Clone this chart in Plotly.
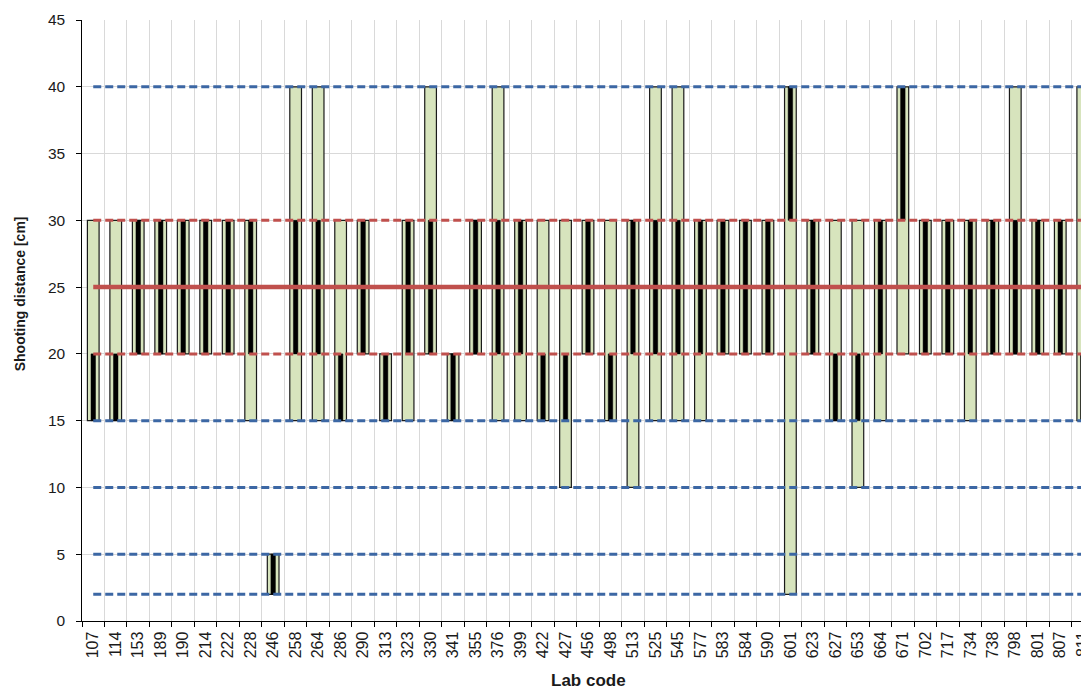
import plotly.graph_objects as go

labs = ["107","114","153","189","190","214","222","228","246","258","264","286","290","313","323",
        "330","341","355","376","399","422","427","456","498","513","525","545","577","583","584",
        "590","601","623","627","653","664","671","702","717","734","738","798","801","807","811"]

green_low  = [15,15,20,20,20,20,20,15,2,15,15,15,20,15,15,20,15,20,15,15,15,10,20,15,10,15,15,15,20,20,20,2,20,15,10,15,20,20,20,15,20,20,20,20,15]
green_high = [30,30,30,30,30,30,30,30,5,40,40,30,30,20,30,40,20,30,40,30,30,30,30,30,30,40,40,30,30,30,30,40,30,30,30,30,40,30,30,30,30,40,30,30,40]
black_low  = [15,15,20,20,20,20,20,20,2,20,20,15,20,15,20,20,15,20,20,20,15,15,20,15,20,20,20,20,20,20,20,30,20,15,15,20,30,20,20,20,20,20,20,20,15]
black_high = [20,20,30,30,30,30,30,30,5,30,30,20,30,20,30,30,20,30,30,30,20,20,30,20,30,30,30,30,30,30,30,40,30,20,20,30,40,30,30,30,30,30,30,30,20]

blue_levels = [2, 5, 10, 15, 40]
red_dash_levels = [20, 30]
red_solid_level = 25

BLUE = "#3C67A4"
RED = "#C0504D"
GREEN = "#D7E4BD"
TXT = "#1a1a1a"

fig = go.Figure()

fig.add_trace(go.Bar(
    x=labs, y=[h - l for h, l in zip(green_high, green_low)], base=green_low,
    width=0.52, marker=dict(color=GREEN, line=dict(color="#1a1a1a", width=1.2)),
    showlegend=False))
fig.add_trace(go.Bar(
    x=labs, y=[h - l for h, l in zip(black_high, black_low)], base=black_low,
    width=0.2, marker=dict(color="#000000", line=dict(color="#000000", width=0.5)),
    showlegend=False))

for v in blue_levels:
    fig.add_trace(go.Scatter(x=[labs[0], labs[-1]], y=[v, v], mode="lines",
                             line=dict(color=BLUE, width=3, dash="8px,4px"),
                             showlegend=False, hoverinfo="skip"))
for v in red_dash_levels:
    fig.add_trace(go.Scatter(x=[labs[0], labs[-1]], y=[v, v], mode="lines",
                             line=dict(color=RED, width=3, dash="8px,4px"),
                             showlegend=False, hoverinfo="skip"))
fig.add_trace(go.Scatter(x=[labs[0], labs[-1]], y=[red_solid_level] * 2, mode="lines",
                         line=dict(color=RED, width=4.5),
                         showlegend=False, hoverinfo="skip"))

font_family = "Arial, Liberation Sans, sans-serif"

fig.update_layout(
    width=1089, height=688,
    margin=dict(l=74, r=3, t=12, b=75),
    plot_bgcolor="white", paper_bgcolor="white",
    barmode="overlay",
    font=dict(family=font_family, color=TXT),
    xaxis=dict(
        type="category", categoryorder="array", categoryarray=labs,
        range=[-0.5, 44.5],
        tickson="boundaries", ticks="outside", ticklen=5, tickcolor="#000",
        tickangle=-90, tickfont=dict(size=16, color=TXT), ticksuffix="\u2009",
        showgrid=True, gridcolor="#D9D9D9", gridwidth=1,
        showline=True, linecolor="#000", linewidth=1,
        automargin=False,
    ),
    yaxis=dict(
        range=[0, 45], dtick=5, tick0=0,
        ticks="outside", ticklen=5, tickcolor="#000",
        tickfont=dict(size=15.5, color=TXT), ticksuffix="\u2002",
        showgrid=True, gridcolor="#D9D9D9", gridwidth=1,
        showline=True, linecolor="#000", linewidth=1,
        zeroline=False,
        automargin=False,
    ),
    annotations=[
        dict(text="<b>Lab code</b>", x=0.5, xref="paper", y=0, yref="paper",
             xanchor="center", yanchor="middle", yshift=-59, showarrow=False,
             font=dict(size=17, color=TXT)),
        dict(text="<b>Shooting distance [cm]</b>", x=0, xref="paper", y=24.5, yref="y",
             xanchor="center", yanchor="middle", xshift=-62.5, textangle=-90, showarrow=False,
             font=dict(size=14, color=TXT)),
    ],
)

fig.write_html("out.html")
